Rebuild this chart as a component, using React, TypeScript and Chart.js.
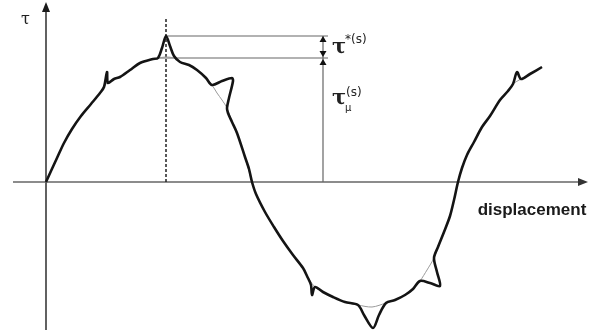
import React, { useEffect, useRef } from "react";
import { Chart, registerables } from "chart.js";

Chart.register(...registerables);

// Measured curve (displacement, tau) with stick-slip spikes
const curveX = [0, 5, 11, 18, 26, 35, 45, 54, 58, 61, 62, 68, 74, 84, 94, 107, 112, 116, 120, 124, 128, 134, 143, 151, 160, 166, 176, 186, 187, 183, 181, 182, 186, 191, 199, 203, 206, 210, 219, 228, 237, 247, 257, 261, 265, 266, 269, 277, 287, 299, 312, 318, 327, 333, 340, 349, 359, 367, 374, 384, 394, 391, 388, 392, 398, 404, 408, 412, 416, 421, 428, 436, 444, 454, 462, 467, 471, 475, 484, 496];
const curveY = [0, 11, 24, 39, 53, 66, 78, 89, 95, 110, 99, 103, 105, 112, 119, 123, 124, 134, 146, 136, 126, 120, 117, 112, 104, 97, 101, 104, 101, 84, 74, 69, 60, 49, 25, 13, 0, -12, -30, -45, -59, -73, -86, -94, -103, -113, -105, -110, -115, -120, -123, -133, -146, -133, -121, -118, -113, -107, -99, -101, -104, -90, -76, -65, -50, -34, -18, 0, 14, 27, 40, 55, 66, 82, 91, 98, 110, 103, 108, 115];

// Smooth underlying curve (thin grey)
const baseX = [0, 11, 18, 26, 35, 45, 54, 58, 62, 68, 74, 84, 94, 107, 112, 120, 128, 134, 143, 151, 160, 166, 171, 176, 181, 186, 191, 199, 206, 210, 219, 228, 237, 247, 257, 263, 269, 277, 287, 299, 312, 326, 340, 349, 359, 367, 374, 381, 388, 392, 398, 404, 408, 412, 416, 421, 428, 436, 444, 454, 462, 467, 475, 484, 496];
const baseY = [0, 24, 39, 53, 66, 78, 89, 95, 100, 103, 105, 112, 119, 123, 124, 125, 124, 120, 117, 112, 104, 97, 89, 82, 74, 60, 49, 25, 0, -12, -30, -45, -59, -73, -86, -97, -105, -110, -115, -120, -123, -125, -121, -118, -113, -107, -99, -88, -76, -65, -50, -34, -18, 0, 14, 27, 40, 55, 66, 82, 91, 98, 103, 108, 115];

const xRange = [-46, 545];
const yRange = [-153, 182];
const xAxisStart = -33;
const xAxisTip = 542;
const yAxisBottom = -148;
const yAxisTip = 180;
const peakX = 120;
const peakTau = 146;
const tauMu = 124;
const lowLineStart = 112;
const annotX = 277;
const annotEnd = 282;
const dashTop = 164;

const xLabel = "displacement";
const yLabel = "τ";

function tri(ctx: CanvasRenderingContext2D, tx: number, ty: number, dir: "up" | "down" | "right", len: number, half: number) {
  ctx.beginPath();
  ctx.moveTo(tx, ty);
  if (dir === "up") {
    ctx.lineTo(tx - half, ty + len);
    ctx.lineTo(tx + half, ty + len);
  } else if (dir === "down") {
    ctx.lineTo(tx - half, ty - len);
    ctx.lineTo(tx + half, ty - len);
  } else {
    ctx.lineTo(tx - len, ty - half);
    ctx.lineTo(tx - len, ty + half);
  }
  ctx.closePath();
  ctx.fill();
}

const overlay = {
  id: "overlay",
  beforeDatasetsDraw(chart: any) {
    const ctx: CanvasRenderingContext2D = chart.ctx;
    const xs = chart.scales.x;
    const ys = chart.scales.y;
    const X = (v: number) => xs.getPixelForValue(v);
    const Y = (v: number) => ys.getPixelForValue(v);
    ctx.save();
    // axes
    ctx.strokeStyle = "#3a3a3a";
    ctx.fillStyle = "#1a1a1a";
    ctx.lineWidth = 1.6;
    ctx.beginPath();
    ctx.moveTo(X(0), Y(yAxisBottom));
    ctx.lineTo(X(0), Y(yAxisTip) + 6);
    ctx.stroke();
    tri(ctx, X(0), Y(yAxisTip), "up", 10, 4);
    ctx.strokeStyle = "#666";
    ctx.beginPath();
    ctx.moveTo(X(xAxisStart), Y(0));
    ctx.lineTo(X(xAxisTip) - 6, Y(0));
    ctx.stroke();
    ctx.fillStyle = "#333";
    tri(ctx, X(xAxisTip), Y(0), "right", 10, 4);

    // dashed peak line
    ctx.strokeStyle = "#222";
    ctx.lineWidth = 1.5;
    ctx.setLineDash([3, 2]);
    ctx.beginPath();
    ctx.moveTo(X(peakX), Y(0));
    ctx.lineTo(X(peakX), Y(dashTop));
    ctx.stroke();
    ctx.setLineDash([]);

    // level lines
    ctx.strokeStyle = "#666";
    ctx.lineWidth = 1.2;
    ctx.beginPath();
    ctx.moveTo(X(peakX), Y(peakTau));
    ctx.lineTo(X(annotEnd), Y(peakTau));
    ctx.moveTo(X(lowLineStart), Y(tauMu));
    ctx.lineTo(X(annotEnd), Y(tauMu));
    ctx.moveTo(X(annotX), Y(0));
    ctx.lineTo(X(annotX), Y(peakTau));
    ctx.stroke();
    ctx.fillStyle = "#111";
    tri(ctx, X(annotX), Y(peakTau), "up", 6, 3.5);
    tri(ctx, X(annotX), Y(tauMu) - 1, "down", 6, 3.5);
    tri(ctx, X(annotX), Y(tauMu) + 1, "up", 6, 3.5);
    ctx.restore();
  },
  afterDatasetsDraw(chart: any) {
    const ctx: CanvasRenderingContext2D = chart.ctx;
    const xs = chart.scales.x;
    const ys = chart.scales.y;
    const X = (v: number) => xs.getPixelForValue(v);
    const Y = (v: number) => ys.getPixelForValue(v);
    ctx.save();
    ctx.fillStyle = "#222";
    ctx.textBaseline = "alphabetic";
    ctx.textAlign = "left";
    // y label
    ctx.font = "16px 'DejaVu Serif'";
    ctx.fillText(yLabel, X(0) - 25, 24);
    // tau* label
    const lx = X(annotX) + 9;
    ctx.font = "bold 21px 'DejaVu Serif'";
    ctx.fillText("τ", lx, Y(tauMu) - 5);
    ctx.font = "12px 'DejaVu Sans'";
    ctx.fillText("*(s)", lx + 13, Y(peakTau) + 7);
    // tau_mu label
    ctx.font = "bold 21px 'DejaVu Serif'";
    ctx.fillText("τ", lx, Y(tauMu) + 46);
    ctx.font = "12px 'DejaVu Sans'";
    ctx.fillText("(s)", lx + 14, Y(tauMu) + 38);
    ctx.font = "10px 'DejaVu Sans'";
    ctx.fillText("μ", lx + 13, Y(tauMu) + 53);
    // x label
    ctx.font = "bold 17px 'Liberation Sans'";
    ctx.textAlign = "center";
    ctx.fillStyle = "#1a1a1a";
    ctx.fillText(xLabel, 532, Y(0) + 33);
    ctx.restore();
  },
};

export default function App() {
  const ref = useRef<HTMLCanvasElement | null>(null);
  useEffect(() => {
    if (!ref.current) return;
    const chart = new Chart(ref.current, {
      type: "line",
      data: {
        datasets: [
          {
            data: curveX.map((x, i) => ({ x, y: curveY[i] })),
            borderColor: "#141414",
            borderWidth: 2.6,
            pointRadius: 0,
            tension: 0.3,
            fill: false,
            order: 0,
          },
          {
            data: baseX.map((x, i) => ({ x, y: baseY[i] })),
            borderColor: "#9a9a9a",
            borderWidth: 1,
            pointRadius: 0,
            tension: 0.3,
            fill: false,
            order: 1,
          },
        ],
      },
      options: {
        animation: false,
        responsive: false,
        layout: { padding: 0 },
        plugins: { legend: { display: false }, tooltip: { enabled: false } },
        scales: {
          x: { type: "linear", display: false, min: xRange[0], max: xRange[1] },
          y: { type: "linear", display: false, min: yRange[0], max: yRange[1] },
        },
      },
      plugins: [overlay],
    });
    return () => chart.destroy();
  }, []);
  return (
    <div style={{ position: "absolute", left: 0, top: 0, width: 591, height: 335, background: "#fff" }}>
      <canvas ref={ref} width={591} height={335} />
    </div>
  );
}
